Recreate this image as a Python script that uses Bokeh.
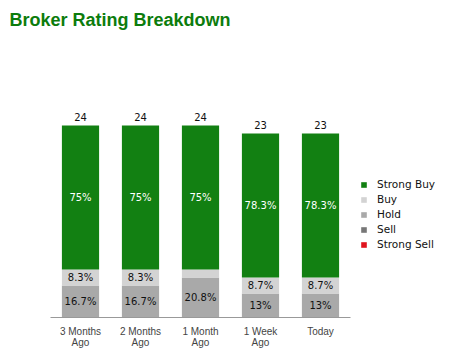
from bokeh.plotting import figure
from bokeh.models import Range1d, ColumnDataSource, Legend, LegendItem, FixedTicker
from bokeh.embed import file_html
from bokeh.resources import INLINE
from bokeh.core.properties import value

# ---- data ----
categories = ["3 Months\nAgo", "2 Months\nAgo", "1 Month\nAgo", "1 Week\nAgo", "Today"]
ratings = ["Strong Buy", "Buy", "Hold", "Sell", "Strong Sell"]
strong_buy = [18, 18, 18, 18, 18]
buy = [2, 2, 1, 2, 2]
hold = [4, 4, 5, 3, 3]
sell = [0, 0, 0, 0, 0]
strong_sell = [0, 0, 0, 0, 0]

rating_colors = {
    "Strong Buy": "#128012",
    "Buy": "#d3d3d3",
    "Hold": "#a9a9a9",
    "Sell": "#777777",
    "Strong Sell": "#e0141e",
}
label_colors = {"Strong Buy": "white", "Buy": "#111111", "Hold": "#111111",
                "Sell": "white", "Strong Sell": "white"}

series = {"Strong Buy": strong_buy, "Buy": buy, "Hold": hold,
          "Sell": sell, "Strong Sell": strong_sell}
stack_order = ["Strong Sell", "Sell", "Hold", "Buy", "Strong Buy"]  # bottom -> top

xs = list(range(len(categories)))
totals = [sum(series[r][i] for r in ratings) for i in xs]

src = ColumnDataSource(dict(x=xs, **{r: series[r] for r in ratings}))

# ---- figure ----
W, H = 466, 351
frame_left, frame_top, frame_bottom = 50, 30, 317
px_per_cat = 60
px_per_unit = 8
p = figure(width=W, height=H, output_backend="svg", toolbar_location=None,
           x_range=Range1d(-0.5, -0.5 + (W - frame_left) / px_per_cat),
           y_range=Range1d(0, (frame_bottom - frame_top) / px_per_unit),
           y_axis_location=None,
           min_border_left=frame_left, min_border_right=0,
           min_border_top=frame_top, min_border_bottom=H - frame_bottom)
p.outline_line_color = None
p.xgrid.visible = False
p.ygrid.visible = False
p.background_fill_color = "white"
p.border_fill_color = "white"

p.title.text = "Broker Rating Breakdown"
p.title.text_font = "Liberation Sans"
p.title.text_font_size = "18px"
p.title.text_font_style = "bold"
p.title.text_color = "#0c7c0c"
p.title.align = "left"
p.title.offset = -41
p.title.standoff = 2

ax = p.xaxis[0]
ax.ticker = FixedTicker(ticks=xs)
ax.major_label_overrides = {i: c for i, c in zip(xs, categories)}
ax.bounds = (-0.5, len(categories) - 0.5)
ax.axis_line_color = "#999999"
ax.major_tick_line_color = None
ax.minor_tick_line_color = None
ax.major_tick_out = 0
ax.major_label_standoff = 8
ax.major_label_text_font = "Liberation Sans"
ax.major_label_text_font_size = "10px"
ax.major_label_text_color = "#444444"
ax.major_label_text_line_height = 1.0

renderers = p.vbar_stack(stack_order, x="x", width=0.62, source=src,
                         fill_color=[rating_colors[r] for r in stack_order],
                         line_color=None)
rmap = dict(zip(stack_order, renderers))

# segment labels
lx, ly, lt, lc = [], [], [], []
for i in xs:
    base = 0
    for r in stack_order:
        v = series[r][i]
        if v >= 2:
            pct = round(v / totals[i] * 100, 1)
            s = ("%g" % pct) + "%"
            lx.append(i); ly.append(base + v / 2); lt.append(s); lc.append(label_colors[r])
        base += v
p.text(x="x", y="y", text="t", text_color="c",
       source=ColumnDataSource(dict(x=lx, y=ly, t=lt, c=lc)),
       text_font=value("DejaVu Sans"), text_font_size="10px",
       text_align="center", text_baseline="middle")

# totals, floated above each bar
gap = 9 / px_per_unit
p.text(x=xs, y=[t + gap for t in totals], text=[str(t) for t in totals],
       text_color="#111111",
       text_font=value("DejaVu Sans"), text_font_size="10px",
       text_align="center", text_baseline="alphabetic")

legend = Legend(items=[LegendItem(label=r, renderers=[rmap[r]]) for r in ratings],
                location=(310, 67), padding=0, margin=0, spacing=3,
                glyph_width=7, glyph_height=7, label_height=12, label_standoff=10,
                label_text_font="DejaVu Sans", label_text_font_size="10.5px",
                label_text_color="#111111",
                border_line_color=None, background_fill_alpha=0)
p.add_layout(legend, "center")

open("out.html", "w").write(file_html(p, INLINE))
